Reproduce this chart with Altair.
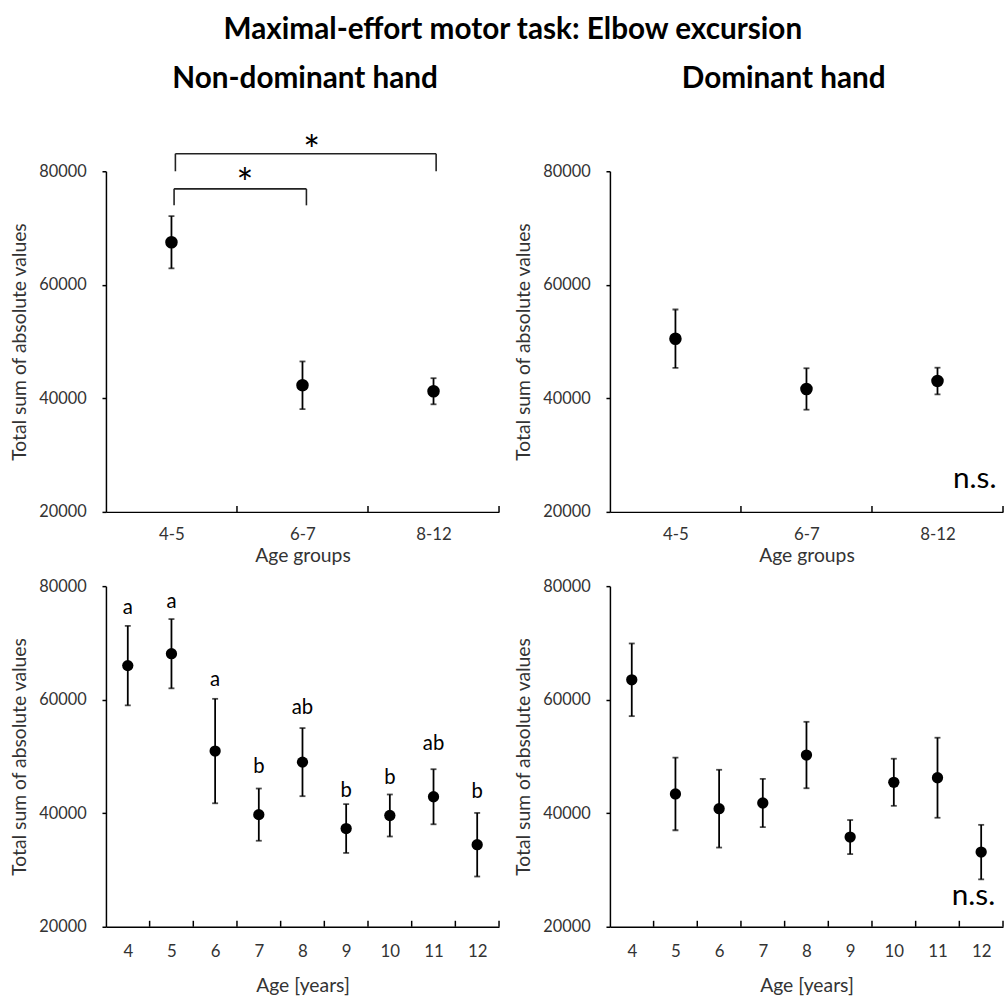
import altair as alt
import pandas as pd

FONT = "Lato"
TXT = "#333333"

# ---------------- data ----------------
groups = ["4-5", "6-7", "8-12"]
group_pos = [1, 2, 3]
nd_group_mean = [67500, 42300, 41250]
nd_group_err = [4600, 4200, 2300]
d_group_mean = [50500, 41650, 43050]
d_group_err = [5150, 3650, 2350]

ages = [4, 5, 6, 7, 8, 9, 10, 11, 12]
nd_age_mean = [66000, 68100, 50950, 39750, 49000, 37300, 39600, 42900, 34450]
nd_age_err = [7000, 6100, 9200, 4600, 6000, 4300, 3700, 4850, 5600]
d_age_mean = [63500, 43400, 40800, 41800, 50250, 35800, 45450, 46250, 33150]
d_age_err = [6400, 6400, 6850, 4250, 5850, 3000, 4150, 7050, 4800]

# significance letters (bottom-left) and their baseline heights
sig_letters = ["a", "a", "a", "b", "ab", "b", "b", "ab", "b"]
sig_letter_y = [75065, 76110, 62333, 47160, 57502, 42800, 45120, 51100, 42680]

# brackets (top-left): x1, x2, top, leg bottom
brackets_x1 = [1.03, 1.02]
brackets_x2 = [3.02, 2.03]
brackets_top = [83100, 76900]
brackets_leg = [80000, 74000]
star_x = [2.07, 1.56]
star_y = [85300, 79500]

headers = ["Non-dominant hand", "Dominant hand"]
header_x = [2.02, 1.826]
header_y = 94630

Y_DOMAIN = [20000, 80000]
Y_TICKS = [20000, 40000, 60000, 80000]
CAP_H = 1050  # inward x tick length in data units


def make_panel(xpos, mean, err, xdomain, label_expr, xtitle, label_pad, title_pad,
               pt_size, extra=None):
    df = pd.DataFrame({
        "x": xpos,
        "mean": mean,
        "lo": [m - e for m, e in zip(mean, err)],
        "hi": [m + e for m, e in zip(mean, err)],
    })
    xscale = alt.Scale(domain=xdomain, nice=False, zero=False)
    yscale = alt.Scale(domain=Y_DOMAIN, nice=False, zero=False)
    xaxis = alt.Axis(values=xpos, labelExpr=label_expr, ticks=False, tickSize=0,
                     grid=False, domainColor="black", domainWidth=1.5,
                     labelFont=FONT, labelFontSize=17, labelColor=TXT,
                     labelPadding=label_pad, title=xtitle, titleFont=FONT,
                     titleFontSize=19.5, titleFontWeight="normal", titleColor=TXT,
                     titlePadding=title_pad)
    yaxis = alt.Axis(values=Y_TICKS, format="d", grid=False, domainColor="black",
                     domainWidth=1.5, tickColor="black", tickWidth=1.5, tickSize=4,
                     labelFont=FONT, labelFontSize=16.5, labelColor=TXT,
                     labelPadding=16, title="Total sum of absolute values",
                     titleFont=FONT, titleFontSize=19.5, titleFontWeight="normal",
                     titleColor=TXT, titlePadding=9)

    def X(f):
        return alt.X(f, type="quantitative", scale=xscale, axis=xaxis)

    def Y(f):
        return alt.Y(f, type="quantitative", scale=yscale, axis=yaxis)

    base = alt.Chart(df)
    bars = base.mark_rule(color="black", strokeWidth=1.8).encode(
        x=X("x"), y=Y("lo"), y2="hi")
    cap_lo = base.mark_tick(orient="horizontal", size=6, thickness=1.8,
                            color="black").encode(x=X("x"), y=Y("lo"))
    cap_hi = base.mark_tick(orient="horizontal", size=6, thickness=1.8,
                            color="black").encode(x=X("x"), y=Y("hi"))
    pts = base.mark_circle(size=pt_size, color="black", opacity=1).encode(
        x=X("x"), y=Y("mean"))

    bnd = [p + 0.5 for p in xpos]
    tdf = pd.DataFrame({"bx": bnd, "y0": [Y_DOMAIN[0]] * len(bnd),
                        "y1": [Y_DOMAIN[0] + CAP_H] * len(bnd)})
    ticks = alt.Chart(tdf).mark_rule(color="black", strokeWidth=1.5).encode(
        x=X("bx"), y=Y("y0"), y2="y1")

    layers = [ticks, bars, cap_lo, cap_hi, pts]
    if extra:
        layers += [e(X, Y) for e in extra]
    return alt.layer(*layers).properties(width=397, height=344)


def header_layer(i):
    def f(X, Y):
        hdf = pd.DataFrame({"t": [headers[i]], "x": [header_x[i]], "y": [header_y]})
        return alt.Chart(hdf).mark_text(font=FONT, fontSize=30, fontWeight="bold",
                                        color="black", baseline="alphabetic",
                                        align="center").encode(
            x=X("x"), y=Y("y"), text="t:N")
    return f


def brackets_layer(X, Y):
    bdf = pd.DataFrame({"x1": brackets_x1, "x2": brackets_x2,
                        "top": brackets_top, "leg": brackets_leg})
    b = alt.Chart(bdf)
    horiz = b.mark_rule(color="#222", strokeWidth=1.6).encode(
        x=X("x1"), x2="x2", y=Y("top"))
    left = b.mark_rule(color="#222", strokeWidth=1.6).encode(
        x=X("x1"), y=Y("top"), y2="leg")
    right = b.mark_rule(color="#222", strokeWidth=1.6).encode(
        x=X("x2"), y=Y("top"), y2="leg")
    sdf = pd.DataFrame({"x": star_x, "y": star_y, "t": ["*", "*"]})
    stars = alt.Chart(sdf).mark_text(font=FONT, fontSize=40, color="black",
                                     baseline="middle", dy=12).encode(
        x=X("x"), y=Y("y"), text="t:N")
    return alt.layer(horiz, left, right, stars)


def letters_layer(X, Y):
    ldf = pd.DataFrame({"x": ages, "y": sig_letter_y, "t": sig_letters})
    return alt.Chart(ldf).mark_text(font=FONT, fontSize=20.5, color="black",
                                    baseline="alphabetic").encode(
        x=X("x"), y=Y("y"), text="t:N")


def ns_layer(xv, yv):
    def f(X, Y):
        ndf = pd.DataFrame({"x": [xv], "y": [yv], "t": ["n.s."]})
        return alt.Chart(ndf).mark_text(font=FONT, fontSize=30, color="black",
                                        align="right", baseline="alphabetic").encode(
            x=X("x"), y=Y("y"), text="t:N")
    return f


grp_expr = "datum.value == 1 ? '4-5' : datum.value == 2 ? '6-7' : '8-12'"
age_expr = "datum.value"

tl = make_panel(group_pos, nd_group_mean, nd_group_err, [0.5, 3.5], grp_expr,
                "Age groups", 15, 4, 160, extra=[brackets_layer, header_layer(0)])
tr = make_panel(group_pos, d_group_mean, d_group_err, [0.5, 3.5], grp_expr,
                "Age groups", 15, 4, 160,
                extra=[ns_layer(3.45, 24140), header_layer(1)])
bl = make_panel(ages, nd_age_mean, nd_age_err, [3.5, 12.5], age_expr,
                "Age [years]", 17, 17, 130, extra=[letters_layer])
br = make_panel(ages, d_age_mean, d_age_err, [3.5, 12.5], age_expr,
                "Age [years]", 17, 17, 130, extra=[ns_layer(12.32, 23790)])

top = alt.hconcat(tl, tr, spacing=14)
bottom = alt.hconcat(bl, br, spacing=14)

chart = alt.vconcat(top, bottom, spacing=13).properties(
    title=alt.TitleParams("Maximal-effort motor task: Elbow excursion",
                          font=FONT, fontSize=30, fontWeight="bold",
                          color="black", anchor="middle", offset=20, dx=6),
    padding={"left": 10, "top": 10, "right": 0, "bottom": 0},
).configure_view(stroke=None)

chart.save("out.html", embed_options={"renderer": "svg", "actions": False})
